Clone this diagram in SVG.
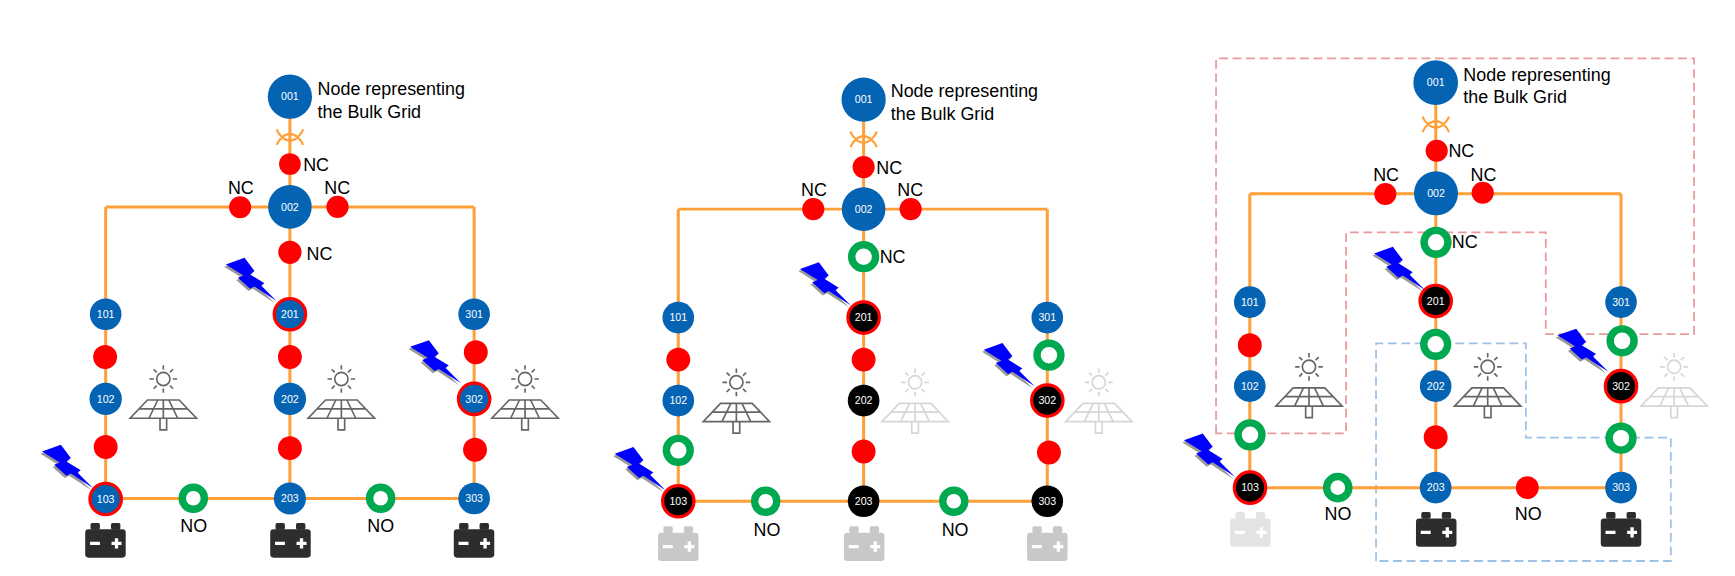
<svg xmlns="http://www.w3.org/2000/svg" width="1735" height="576" viewBox="0 0 1735 576">
<style>
text{font-family:"Liberation Sans",Arial,sans-serif}
.w{stroke:#ff9f38;stroke-width:2.700;fill:none}
.b{fill:#0563b4}
.k{fill:#000}
.rr{stroke:#f00;stroke-width:2.900}
.r{fill:#f00}
.g{fill:#fff;stroke:#00a84f;stroke-width:6.700}
.t{fill:#fff;font-size:9.600px;text-anchor:middle}
.l{fill:#000;font-size:16.200px}
.d{fill:none;stroke:#ea9a9c;stroke-width:1.600;stroke-dasharray:8 4.200}
.e{fill:none;stroke:#9cc2e8;stroke-width:1.600;stroke-dasharray:8 4.200}
.pv{fill:none;stroke:#666;stroke-width:1.500}
.pf{fill:none;stroke:#d6d6d6;stroke-width:1.500}
</style>
<defs>
<g id="pv">
<circle r="6"/>
<path d="M0-12.500v4M0 8.500v4M-12.500 0h4M8.500 0h4M-8.800-8.800l2.800 2.800M6 6l2.800 2.800M8.800-8.800L6-6M-6 6l-2.800 2.800"/>
<path d="M-14.300 19H14.300L30 35.500H-30ZM-22 27H22M-5 19L-13 35.500M5 19L13 35.500M0 19V35.500M-3 35.500V46H3V35.500"/>
</g>
<g id="bat">
<rect x="-13.500" y="-5.700" width="8.500" height="6" rx="1.500"/>
<rect x="5" y="-5.700" width="8.500" height="6" rx="1.500"/>
<rect x="-18.300" y="0" width="36.600" height="25.600" rx="3"/>
<path d="M-14 12.600h9M5.500 12.600h9M10 8v9.200" stroke="#fff" stroke-width="3" fill="none"/>
</g>
<path id="cross" d="M-12-7C-10-2-5 3 0 3C5 3 10-2 12-7M-12 7C-10 2-5-3 0-3C5-3 10 2 12 7" fill="none" stroke="#ff9f38" stroke-width="2"/>
<g id="bolt">
<path d="M-46-33L-29-39-20-27-24-24-11-16-14-14 0 0-20-13-24-11-35-21-30-23Z" fill="#999" transform="translate(-1.500,2)"/>
<path d="M-46-33L-29-39-20-27-24-24-11-16-14-14 0 0-20-13-24-11-35-21-30-23Z" fill="#00f"/>
</g>
</defs>
<g transform="scale(1.1065)">
<g id="groups">
<path class="d" d="M1099 391.600V52.700H1531V302H1397V210H1216.500V391.600Z"/>
<path class="e" d="M1243.600 507V310.300H1379V395.500H1510V507Z"/>
</g>
<g id="connectors">
<path class="w" d="M262 87V450.500M95.500 187H428.500M95.500 187V450.500H428.500V187"/>
<path class="w" d="M780.500 90V453M613 189H946.500M613 189V453H946.500V189"/>
<path class="w" d="M1297.600 75V440.700M1129.500 175H1465M1129.500 175V440.700H1465V175"/>
</g>
<g id="diagram-a">
<use href="#cross" x="262" y="124"/>
<g id="a001"><circle class="b" cx="262" cy="87.400" r="20"/><text class="t" x="262" y="90.800">001</text></g>
<g id="a002"><circle class="b" cx="262" cy="187" r="19.700"/><text class="t" x="262" y="190.400">002</text></g>
<g id="a101"><circle class="b" cx="95.500" cy="284" r="14.300"/><text class="t" x="95.500" y="287.400">101</text></g>
<g id="a102"><circle class="b" cx="95.500" cy="360.500" r="14.600"/><text class="t" x="95.500" y="363.900">102</text></g>
<g id="a103"><circle class="b rr" cx="95.500" cy="451" r="14.200"/><text class="t" x="95.500" y="454.400">103</text></g>
<g id="a201"><circle class="b rr" cx="262" cy="284" r="14.200"/><text class="t" x="262" y="287.400">201</text></g>
<g id="a202"><circle class="b" cx="262" cy="360.500" r="14.600"/><text class="t" x="262" y="363.900">202</text></g>
<g id="a203"><circle class="b" cx="262" cy="450.500" r="14.500"/><text class="t" x="262" y="453.900">203</text></g>
<g id="a301"><circle class="b" cx="428.500" cy="284" r="14.300"/><text class="t" x="428.500" y="287.400">301</text></g>
<g id="a302"><circle class="b rr" cx="428.500" cy="360.500" r="14.200"/><text class="t" x="428.500" y="363.900">302</text></g>
<g id="a303"><circle class="b" cx="428.500" cy="450.500" r="14.300"/><text class="t" x="428.500" y="453.900">303</text></g>
<circle class="r" cx="262" cy="148.200" r="9.800"/><circle class="r" cx="217" cy="187.300" r="10"/><circle class="r" cx="305" cy="187" r="10"/><circle class="r" cx="262" cy="228" r="10.500"/>
<circle class="r" cx="95" cy="322.600" r="10.800"/><circle class="r" cx="95.500" cy="404" r="10.800"/><circle class="r" cx="262" cy="322.600" r="10.800"/><circle class="r" cx="262" cy="405" r="10.800"/><circle class="r" cx="430" cy="318.400" r="10.800"/><circle class="r" cx="429.300" cy="406.400" r="10.800"/>
<circle class="g" cx="174.700" cy="450.300" r="10"/><circle class="g" cx="344" cy="450.300" r="10"/>
<text class="l" x="287" y="86">Node representing</text><text class="l" x="287" y="107">the Bulk Grid</text>
<text class="l" x="274" y="154.500">NC</text><text class="l" x="206" y="175.300">NC</text><text class="l" x="293" y="175.300">NC</text><text class="l" x="277" y="235">NC</text>
<text class="l" x="163" y="481">NO</text><text class="l" x="332" y="481">NO</text>
<use href="#pv" class="pv" x="147.600" y="342.500"/><use href="#pv" class="pv" x="308.500" y="342.500"/><use href="#pv" class="pv" x="474.500" y="342.500"/>
<use href="#bat" x="95.300" y="478.400" fill="#2d2d2d"/><use href="#bat" x="262.500" y="478.400" fill="#2d2d2d"/><use href="#bat" x="428.400" y="478.400" fill="#2d2d2d"/>
<use href="#bolt" x="84" y="441"/><use href="#bolt" x="250" y="272"/><use href="#bolt" x="416.600" y="346.400"/>
</g>
<g id="diagram-b">
<use href="#cross" x="780.500" y="126"/>
<g id="b001"><circle class="b" cx="780.500" cy="90" r="20"/><text class="t" x="780.500" y="93.400">001</text></g>
<g id="b002"><circle class="b" cx="780.500" cy="189" r="19.700"/><text class="t" x="780.500" y="192.400">002</text></g>
<g id="b101"><circle class="b" cx="613" cy="287" r="14.300"/><text class="t" x="613" y="290.400">101</text></g>
<g id="b102"><circle class="b" cx="613" cy="362" r="14.300"/><text class="t" x="613" y="365.400">102</text></g>
<g id="b103"><circle class="k rr" cx="613" cy="453" r="14.200"/><text class="t" x="613" y="456.400">103</text></g>
<g id="b201"><circle class="k rr" cx="780.500" cy="287" r="14.200"/><text class="t" x="780.500" y="290.400">201</text></g>
<g id="b202"><circle class="k" cx="780.500" cy="362" r="14.300"/><text class="t" x="780.500" y="365.400">202</text></g>
<g id="b203"><circle class="k" cx="780.500" cy="453" r="14.300"/><text class="t" x="780.500" y="456.400">203</text></g>
<g id="b301"><circle class="b" cx="946.500" cy="287" r="14.300"/><text class="t" x="946.500" y="290.400">301</text></g>
<g id="b302"><circle class="k rr" cx="946.500" cy="362" r="14.200"/><text class="t" x="946.500" y="365.400">302</text></g>
<g id="b303"><circle class="k" cx="946.500" cy="453" r="14.300"/><text class="t" x="946.500" y="456.400">303</text></g>
<circle class="r" cx="780.500" cy="151" r="10"/><circle class="r" cx="735" cy="189" r="10"/><circle class="r" cx="823" cy="189" r="10"/>
<circle class="g" cx="780.500" cy="232" r="10.800"/>
<circle class="r" cx="613" cy="325" r="10.800"/><circle class="g" cx="613" cy="407" r="10.800"/><circle class="r" cx="780.500" cy="325" r="10.800"/><circle class="r" cx="780.500" cy="408" r="10.800"/><circle class="g" cx="948" cy="321" r="10.800"/><circle class="r" cx="948" cy="409" r="10.800"/>
<circle class="g" cx="692" cy="453" r="10"/><circle class="g" cx="862" cy="453" r="10"/>
<text class="l" x="805" y="87.500">Node representing</text><text class="l" x="805" y="108.500">the Bulk Grid</text>
<text class="l" x="792" y="157">NC</text><text class="l" x="724" y="177.500">NC</text><text class="l" x="811" y="177.500">NC</text><text class="l" x="795" y="238">NC</text>
<text class="l" x="681" y="484">NO</text><text class="l" x="851" y="484">NO</text>
<use href="#pv" class="pv" x="665.500" y="345.500"/><use href="#pv" class="pf" x="827" y="345.500"/><use href="#pv" class="pf" x="993" y="345.500"/>
<use href="#bat" x="613" y="481.400" fill="#c8c8c8"/><use href="#bat" x="781" y="481.400" fill="#c8c8c8"/><use href="#bat" x="946.500" y="481.400" fill="#c8c8c8"/>
<use href="#bolt" x="601.500" y="443"/><use href="#bolt" x="769" y="276"/><use href="#bolt" x="935" y="349"/>
</g>
<g id="diagram-c">
<use href="#cross" x="1297.600" y="112.400"/>
<g id="c001"><circle class="b" cx="1297.500" cy="74.700" r="20.200"/><text class="t" x="1297.500" y="78.100">001</text></g>
<g id="c002"><circle class="b" cx="1297.800" cy="174.700" r="19.900"/><text class="t" x="1297.800" y="178.100">002</text></g>
<g id="c101"><circle class="b" cx="1129.500" cy="273" r="14.300"/><text class="t" x="1129.500" y="276.400">101</text></g>
<g id="c102"><circle class="b" cx="1129.500" cy="349" r="14.300"/><text class="t" x="1129.500" y="352.400">102</text></g>
<g id="c103"><circle class="k rr" cx="1129.700" cy="440.700" r="14.200"/><text class="t" x="1129.700" y="444.100">103</text></g>
<g id="c201"><circle class="k rr" cx="1297.500" cy="272" r="14.200"/><text class="t" x="1297.500" y="275.400">201</text></g>
<g id="c202"><circle class="b" cx="1297.500" cy="349" r="14.300"/><text class="t" x="1297.500" y="352.400">202</text></g>
<g id="c203"><circle class="b" cx="1297.500" cy="440.700" r="14.300"/><text class="t" x="1297.500" y="444.100">203</text></g>
<g id="c301"><circle class="b" cx="1465" cy="273" r="14.300"/><text class="t" x="1465" y="276.400">301</text></g>
<g id="c302"><circle class="k rr" cx="1465" cy="349" r="14.200"/><text class="t" x="1465" y="352.400">302</text></g>
<g id="c303"><circle class="b" cx="1465" cy="440.700" r="14.300"/><text class="t" x="1465" y="444.100">303</text></g>
<circle class="r" cx="1298.400" cy="136.200" r="10"/><circle class="r" cx="1252" cy="175.300" r="10"/><circle class="r" cx="1340" cy="174.200" r="10"/>
<circle class="g" cx="1297.800" cy="219" r="10.800"/>
<circle class="r" cx="1129.500" cy="312" r="10.800"/><circle class="g" cx="1129.700" cy="393" r="10.800"/><circle class="g" cx="1297.500" cy="311.200" r="10.800"/><circle class="r" cx="1297.500" cy="395.200" r="10.800"/><circle class="g" cx="1466" cy="308" r="10.800"/><circle class="g" cx="1465" cy="396" r="10.800"/>
<circle class="g" cx="1209" cy="440.700" r="10"/><circle class="r" cx="1380.300" cy="440.700" r="10.300"/>
<text class="l" x="1322.500" y="73">Node representing</text><text class="l" x="1322.500" y="93.500">the Bulk Grid</text>
<text class="l" x="1309" y="141.600">NC</text><text class="l" x="1241" y="163.300">NC</text><text class="l" x="1329" y="163.300">NC</text><text class="l" x="1312" y="224">NC</text>
<text class="l" x="1197" y="470">NO</text><text class="l" x="1369" y="470">NO</text>
<use href="#pv" class="pv" x="1183" y="331.500"/><use href="#pv" class="pv" x="1344.500" y="331.500"/><use href="#pv" class="pf" x="1513" y="331.500"/>
<use href="#bat" x="1130" y="468.500" fill="#e3e3e3"/><use href="#bat" x="1298" y="468.500" fill="#2d2d2d"/><use href="#bat" x="1465" y="468.500" fill="#2d2d2d"/>
<use href="#bolt" x="1116" y="430.800"/><use href="#bolt" x="1287.800" y="262"/><use href="#bolt" x="1453.500" y="336"/>
</g>
</g>
</svg>
